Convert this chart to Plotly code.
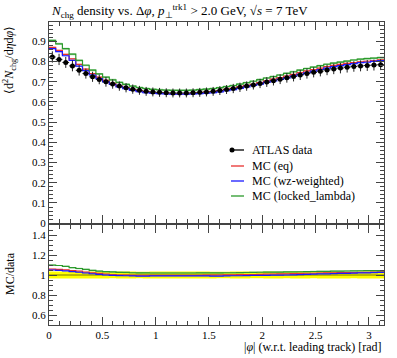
import numpy as np
import plotly.graph_objects as go

n_bins = 50
phi_edges = np.linspace(0, np.pi, n_bins + 1)
phi_centres = 0.5 * (phi_edges[:-1] + phi_edges[1:])
half_width = 0.5 * (phi_edges[1] - phi_edges[0])

data_vals = [0.822, 0.810, 0.795, 0.778, 0.756, 0.740, 0.724, 0.711, 0.699, 0.688,
             0.678, 0.670, 0.663, 0.657, 0.652, 0.649, 0.647, 0.645, 0.644, 0.644,
             0.644, 0.645, 0.647, 0.649, 0.652, 0.656, 0.661, 0.666, 0.672, 0.678,
             0.684, 0.691, 0.698, 0.705, 0.712, 0.719, 0.726, 0.733, 0.740, 0.746,
             0.752, 0.758, 0.763, 0.767, 0.771, 0.775, 0.778, 0.780, 0.782, 0.784]
data_err = [0.028, 0.028, 0.027, 0.027, 0.026, 0.025, 0.025, 0.024, 0.024, 0.023,
            0.023, 0.023, 0.023, 0.022, 0.022, 0.022, 0.022, 0.022, 0.022, 0.022,
            0.022, 0.022, 0.022, 0.022, 0.022, 0.022, 0.022, 0.023, 0.023, 0.023,
            0.023, 0.023, 0.024, 0.024, 0.024, 0.024, 0.025, 0.025, 0.025, 0.025,
            0.026, 0.026, 0.026, 0.026, 0.026, 0.026, 0.027, 0.027, 0.027, 0.027]

mc_eq = [0.870, 0.855, 0.835, 0.813, 0.785, 0.762, 0.740, 0.722, 0.706, 0.691,
         0.678, 0.669, 0.661, 0.654, 0.649, 0.646, 0.644, 0.642, 0.641, 0.641,
         0.641, 0.642, 0.645, 0.648, 0.651, 0.656, 0.662, 0.667, 0.674, 0.681,
         0.687, 0.695, 0.704, 0.712, 0.720, 0.728, 0.736, 0.745, 0.753, 0.759,
         0.767, 0.774, 0.780, 0.785, 0.790, 0.794, 0.798, 0.801, 0.804, 0.808]
mc_wz = [0.863, 0.848, 0.828, 0.805, 0.777, 0.755, 0.733, 0.715, 0.699, 0.686,
         0.674, 0.665, 0.657, 0.650, 0.645, 0.643, 0.641, 0.639, 0.638, 0.638,
         0.638, 0.639, 0.641, 0.643, 0.645, 0.649, 0.655, 0.661, 0.667, 0.674,
         0.681, 0.688, 0.696, 0.704, 0.711, 0.719, 0.727, 0.736, 0.744, 0.752,
         0.760, 0.767, 0.774, 0.779, 0.784, 0.789, 0.794, 0.796, 0.800, 0.804]
mc_locked = [0.904, 0.887, 0.863, 0.836, 0.805, 0.781, 0.757, 0.738, 0.722, 0.709,
             0.696, 0.687, 0.678, 0.671, 0.666, 0.662, 0.660, 0.658, 0.657, 0.657,
             0.657, 0.658, 0.661, 0.663, 0.666, 0.670, 0.676, 0.681, 0.688, 0.695,
             0.702, 0.710, 0.718, 0.725, 0.733, 0.741, 0.749, 0.757, 0.765, 0.772,
             0.779, 0.786, 0.792, 0.797, 0.802, 0.807, 0.811, 0.814, 0.816, 0.819]
mc_err = {"eq": 0.003, "wz": 0.003, "locked": 0.005}

series = [
    ("MC (eq)", mc_eq, mc_err["eq"], "#e8302f", "rgba(240,120,120,0.55)"),
    ("MC (wz-weighted)", mc_wz, mc_err["wz"], "#1a1aff", "rgba(120,120,255,0.55)"),
    ("MC (locked_lambda)", mc_locked, mc_err["locked"], "#2b9a2b", "rgba(110,190,110,0.6)"),
]
legend_labels = ["ATLAS data"] + [s[0] for s in series]

FONT = "Liberation Serif"
data = np.array(data_vals)
derr = np.array(data_err)
xe = list(phi_edges)

def step_y(v):
    v = list(v)
    return v + [v[-1]]

fig = go.Figure()

# ratio: yellow data band
fig.add_trace(go.Scatter(x=xe, y=step_y(1 - derr / data), mode="lines", line=dict(width=0, shape="hv"),
                         xaxis="x2", yaxis="y2", showlegend=False, hoverinfo="skip"))
fig.add_trace(go.Scatter(x=xe, y=step_y(1 + derr / data), mode="lines", line=dict(width=0, shape="hv"),
                         fill="tonexty", fillcolor="#ffff00", xaxis="x2", yaxis="y2",
                         showlegend=False, hoverinfo="skip"))
fig.add_trace(go.Scatter(x=[phi_edges[0], phi_edges[-1]], y=[1, 1], mode="lines",
                         line=dict(color="#777700", width=1), xaxis="x2", yaxis="y2",
                         showlegend=False, hoverinfo="skip"))

for name, vals, err, col, band in series:
    v = np.array(vals)
    for (ax, ay, yy) in [("x", "y", v), ("x2", "y2", v / data)]:
        e = err if ax == "x" else err / data
        fig.add_trace(go.Scatter(x=xe, y=step_y(yy - e), mode="lines", line=dict(width=0, shape="hv"),
                                 xaxis=ax, yaxis=ay, showlegend=False, hoverinfo="skip"))
        fig.add_trace(go.Scatter(x=xe, y=step_y(yy + e), mode="lines", line=dict(width=0, shape="hv"),
                                 fill="tonexty", fillcolor=band, xaxis=ax, yaxis=ay,
                                 showlegend=False, hoverinfo="skip"))
        fig.add_trace(go.Scatter(x=xe, y=step_y(yy), mode="lines", line=dict(color=col, width=1.2, shape="hv"),
                                 xaxis=ax, yaxis=ay, showlegend=False, name=name))

fig.add_trace(go.Scatter(
    x=phi_centres, y=data_vals, mode="markers",
    marker=dict(color="black", size=5),
    error_y=dict(type="data", array=data_err, color="#222", thickness=1, width=0),
    error_x=dict(type="constant", value=half_width, color="#222", thickness=1, width=0),
    xaxis="x", yaxis="y", showlegend=False, name="ATLAS data"))

W, H = 397, 358
ML, MR, MT, MB = 49, 13, 22, 33

def px(x):
    return (x - ML) / (W - ML - MR)

def py(y):
    return (H - MB - y) / (H - MT - MB)

axis_common = dict(showline=True, linecolor="#444", linewidth=1, mirror="allticks",
                   ticks="inside", tickcolor="#444", zeroline=False, showgrid=False,
                   tickfont=dict(family=FONT, size=11, color="black"))

fig.update_layout(
    width=W, height=H,
    margin=dict(l=ML, r=MR, t=MT, b=MB),
    paper_bgcolor="white", plot_bgcolor="white",
    font=dict(family=FONT, color="black"),
    xaxis=dict(domain=[0, 1], range=[0, np.pi], anchor="y", matches="x2", showticklabels=False,
               dtick=0.5, tick0=0, ticklen=8,
               minor=dict(dtick=0.1, ticklen=4, ticks="inside", tickcolor="#444"), **axis_common),
    yaxis=dict(domain=[0.336, 1], range=[0, 0.995], dtick=0.1, tick0=0, ticklen=8,
               minor=dict(dtick=0.02, ticklen=4, ticks="inside", tickcolor="#444"), **axis_common),
    xaxis2=dict(domain=[0, 1], range=[0, np.pi], anchor="y2", dtick=0.5, tick0=0, ticklen=8,
                minor=dict(dtick=0.1, ticklen=4, ticks="inside", tickcolor="#444"), **axis_common),
    yaxis2=dict(domain=[0, 0.33], range=[0.5, 1.5], dtick=0.2, tick0=0, ticklen=8,
                minor=dict(dtick=0.05, ticklen=4, ticks="inside", tickcolor="#444"), **axis_common),
)

annotations = [
    dict(text="<i>N</i><sub>chg</sub> density vs. Δ<i>φ</i>, <i>p</i><sub>⊥</sub><sup>trk1</sup> &gt; 2.0 GeV, √<i>s</i> = 7 TeV",
         x=px(49), y=py(11), xref="paper", yref="paper", xanchor="left", yanchor="middle",
         showarrow=False, font=dict(family=FONT, size=13)),
    dict(text="⟨d<sup>2</sup><i>N</i><sub>chg</sub>/d<i>η</i>d<i>φ</i>⟩",
         x=px(10), y=py(24), xref="paper", yref="paper", xanchor="center", yanchor="top",
         textangle=-90, showarrow=False, font=dict(family=FONT, size=12)),
    dict(text="MC/data", x=px(10), y=py(274), xref="paper", yref="paper", xanchor="center",
         yanchor="middle", textangle=-90, showarrow=False, font=dict(family=FONT, size=12)),
    dict(text="|<i>φ</i>| (w.r.t. leading track) [rad]", x=px(384), y=py(347), xref="paper", yref="paper",
         xanchor="right", yanchor="middle", showarrow=False, font=dict(family=FONT, size=12)),
]
shapes = []
leg_y = [150, 166, 181, 196]
leg_cols = ["black"] + [s[3] for s in series]
for lab, yy, col in zip(legend_labels, leg_y, leg_cols):
    annotations.append(dict(text=lab, x=px(250), y=py(yy), xref="paper", yref="paper",
                            xanchor="left", yanchor="middle", showarrow=False,
                            font=dict(family=FONT, size=12)))
    shapes.append(dict(type="line", xref="paper", yref="paper", x0=px(231), x1=px(244),
                       y0=py(yy), y1=py(yy), line=dict(color=col, width=1.3)))
shapes.append(dict(type="circle", xref="paper", yref="paper", xsizemode="pixel", ysizemode="pixel",
                   xanchor=px(232), yanchor=py(leg_y[0]), x0=-2.5, x1=2.5, y0=-2.5, y1=2.5,
                   fillcolor="black", line=dict(color="black", width=0)))
fig.update_layout(annotations=annotations, shapes=shapes)

fig.write_html("out.html", config={"displayModeBar": False},
               post_script="document.body.style.margin='0';document.body.style.padding='0';")
